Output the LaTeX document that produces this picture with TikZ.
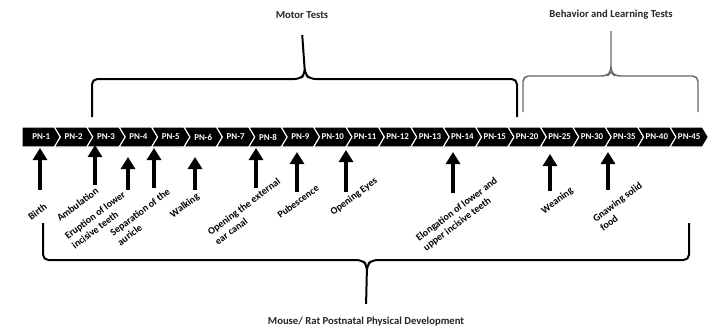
\documentclass[tikz,border=0pt]{standalone}
\usepackage{fontspec}
\setmainfont{Carlito}
\usetikzlibrary{arrows.meta,positioning,calc}

\begin{document}
\begin{tikzpicture}[x=0.75pt,y=-0.75pt,
    pn/.style={text=white,font=\fontsize{6.7}{7}\selectfont\bfseries,inner sep=0pt},
    chev/.style={fill=black,draw=white,line width=0.8pt},
    up/.style={line width=3pt,-{Triangle[width=10.5pt,length=9pt]}},
    lab/.style={font=\fontsize{7.5}{9}\selectfont\bfseries,rotate=37,align=left,inner sep=0pt},
    head/.style={font=\fontsize{8}{9}\selectfont\bfseries,text=black!85,inner sep=0pt},
    brace/.style={line width=1.5pt,rounded corners=4pt}]
    \useasboundingbox (0,0) rectangle (716,332);

    % the days
    \foreach \n [count=\i] in {1,...,15,20,25,30,35,40,45} {
        \pgfmathsetmacro\L{22+(\i-1)*32.4}
        \ifnum\i=1
            \draw[chev] (\L,127) -- (\L+32.4,127) -- (\L+38.4,137) -- (\L+32.4,147) -- (\L,147) -- cycle;
        \else
            \draw[chev] (\L,127) -- (\L+32.4,127) -- (\L+38.4,137) -- (\L+32.4,147) -- (\L,147) -- (\L+6,137) -- cycle;
        \fi
        \node[pn] (pn\i) at (\L+19.2,137) {PN-\n};
    }

    % events
    \coordinate (b1) at (40,190);   \coordinate (t1) at (40,148);
    \coordinate (b2) at (95,185);   \coordinate (t2) at (95,145);
    \coordinate (b3) at (128,190);  \coordinate (t3) at (128,157);
    \coordinate (b4) at (154,188);  \coordinate (t4) at (154,148);
    \coordinate (b5) at (195,190);  \coordinate (t5) at (195,157);
    \coordinate (b6) at (256,188);  \coordinate (t6) at (256,148);
    \coordinate (b7) at (297,192);  \coordinate (t7) at (297,152);
    \coordinate (b8) at (346,192);  \coordinate (t8) at (346,150);
    \coordinate (b9) at (453,193);  \coordinate (t9) at (453,152);
    \coordinate (b10) at (550,191); \coordinate (t10) at (550,154);
    \coordinate (b11) at (608,190); \coordinate (t11) at (608,152);
    \foreach \i in {1,...,11}
        \draw[up] (b\i) -- (t\i);

    \node[lab] (birth) at (37.5,211.5) {Birth};
    \node[lab] (amb) at (77.5,204.5) {Ambulation};
    \node[lab] (erup) at (98.5,220) {Eruption of lower\\incisive teeth};
    \node[lab] (sep) at (143.5,217) {Separation of the\\auricle};
    \node[lab] (walk) at (185,206) {Walking};
    \node[lab] (ear) at (247.5,211.5) {Opening the external\\ear canal};
    \node[lab] (pub) at (298,201.5) {Pubescence};
    \node[lab] (eyes) at (354,197) {Opening Eyes};
    \node[lab] (elong) at (460.5,214.5) {Elongation of lower and\\upper incisive teeth};
    \node[lab] (wean) at (557.5,201) {Weaning};
    \node[lab] (gnaw) at (621,206.5) {Gnawing solid\\food};

    % tests
    \node[head] (motor) at (302,15) {Motor Tests};
    \node[head] (behav) at (611,15) {Behavior and Learning Tests};
    \node[head] (dev) at (366,322) {Mouse/ Rat Postnatal Physical Development};

    \coordinate (m1) at (92,117);  \coordinate (m2) at (517,117);
    \coordinate (l1) at (523,112); \coordinate (l2) at (698,112);
    \coordinate (d1) at (43,223);  \coordinate (d2) at (689,223);

    \draw[brace] (m1) |- (300,79) -- (305,74) -- (motor.south |- 0,32)
        -- (305,74) -- (310,79) -| (m2);
    \draw[brace,line width=1.1pt,black!60] (l1) |- (607,76) -- (611,72) -- (behav.south |- 0,28)
        -- (611,72) -- (615,76) -| (l2);
    \draw[brace] (d1) |- (362,260) -- (367,265) -- (dev.north |- 0,307)
        -- (367,265) -- (372,260) -| (d2);
\end{tikzpicture}
\end{document}
